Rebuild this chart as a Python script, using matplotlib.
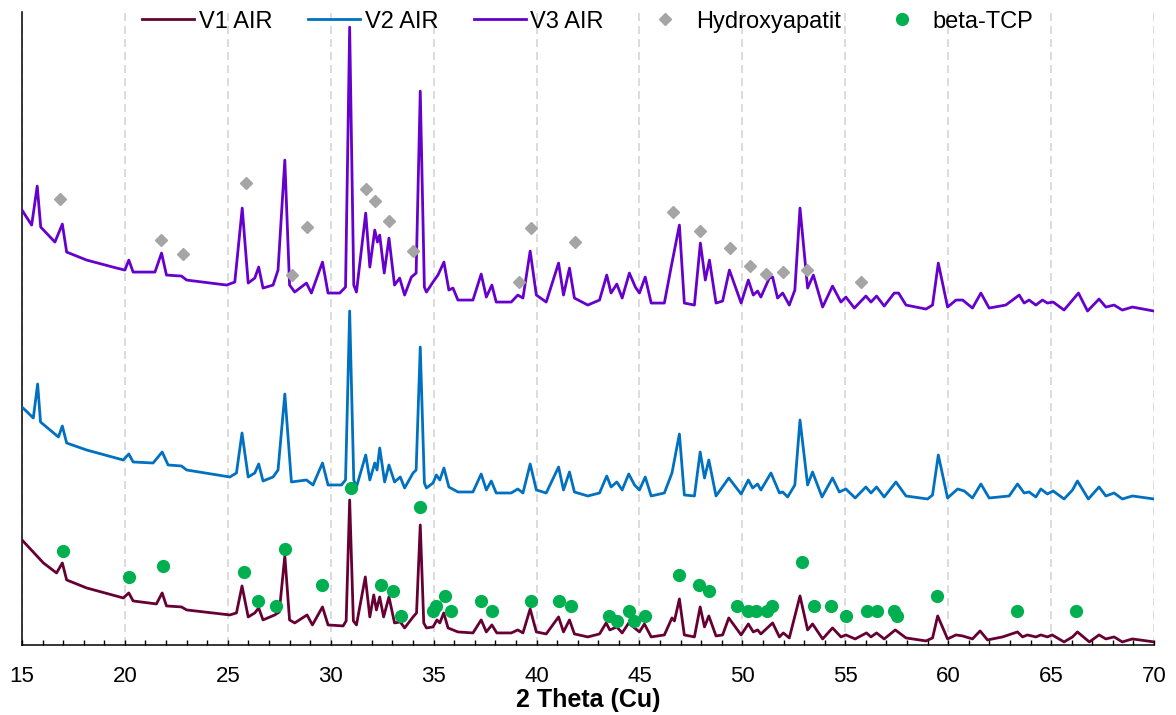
# XRD patterns V1-V3 (air), with phase markers
import numpy as np
import matplotlib.pyplot as plt
from matplotlib.ticker import MultipleLocator

plt.rcParams['font.family'] = ['Liberation Sans', 'DejaVu Sans']

# (2 theta, intensity a.u.) vertices
v3_air = [
    (15.0, 435), (15.47, 420), (15.74, 459), (15.91, 418), (16.6, 403), (16.96, 421),
    (17.17, 393), (18.14, 385), (19.6, 377), (20.0, 375), (20.19, 385), (20.4, 373),
    (21.46, 373), (21.78, 392), (22.02, 370), (22.75, 369), (23.0, 365), (24.94, 360),
    (25.34, 363), (25.7, 437), (25.99, 362), (26.31, 367), (26.5, 378), (26.71, 357),
    (27.2, 360), (27.44, 375), (27.77, 485), (28.0, 360), (28.25, 353), (28.82, 362),
    (29.06, 352), (29.6, 383), (29.87, 352), (30.44, 352), (30.72, 358), (30.92, 618),
    (31.12, 360), (31.25, 353), (31.7, 432), (31.9, 378), (32.14, 415), (32.27, 403),
    (32.38, 410), (32.6, 372), (32.83, 407), (33.1, 360), (33.35, 367), (33.59, 350),
    (33.92, 368), (34.15, 372), (34.35, 554), (34.55, 358), (34.65, 353), (34.97, 363),
    (35.21, 370), (35.5, 383), (35.74, 355), (35.94, 357), (36.18, 345), (36.91, 345),
    (37.31, 371), (37.56, 348), (37.83, 360), (38.04, 343), (38.77, 343), (39.09, 350),
    (39.34, 347), (39.69, 394), (39.99, 350), (40.47, 343), (41.07, 382), (41.31, 350),
    (41.6, 377), (41.84, 347), (42.49, 340), (43.06, 345), (43.41, 370), (43.62, 352),
    (43.9, 361), (44.16, 347), (44.51, 372), (44.8, 358), (45.0, 352), (45.28, 368),
    (45.57, 342), (46.21, 342), (46.54, 378), (46.94, 420), (47.18, 342), (47.67, 340),
    (47.96, 402), (48.2, 365), (48.4, 385), (48.72, 342), (49.04, 344), (49.37, 375),
    (49.94, 342), (50.29, 365), (50.53, 350), (50.74, 354), (50.9, 348), (51.31, 367),
    (51.47, 368), (51.71, 347), (51.96, 352), (52.28, 340), (52.55, 355), (52.8, 437),
    (53.17, 357), (53.45, 370), (53.9, 338), (54.38, 359), (54.79, 343), (55.03, 348),
    (55.44, 337), (56.0, 349), (56.25, 343), (56.52, 349), (56.89, 339), (57.38, 352),
    (57.59, 352), (57.95, 340), (58.92, 336), (59.24, 340), (59.52, 382), (59.97, 338),
    (60.38, 345), (60.7, 345), (61.18, 337), (61.59, 352), (61.99, 337), (62.8, 340),
    (63.45, 350), (63.69, 342), (63.93, 345), (64.26, 340), (64.58, 345), (64.82, 342),
    (65.1, 343), (65.63, 335), (66.04, 345), (66.33, 352), (66.77, 334), (67.33, 346),
    (67.66, 338), (68.06, 340), (68.46, 335), (68.95, 338), (70.0, 334),
]

v2_air = [
    (15.0, 238), (15.55, 227), (15.76, 261), (15.9, 223), (16.77, 208), (16.96, 219),
    (17.17, 202), (18.14, 195), (19.92, 185), (20.19, 191), (20.4, 183), (21.37, 182),
    (21.81, 193), (22.1, 180), (22.75, 179), (23.0, 175), (25.1, 168), (25.42, 172),
    (25.69, 212), (25.99, 168), (26.31, 172), (26.5, 181), (26.71, 164), (27.2, 168),
    (27.44, 175), (27.77, 251), (28.09, 163), (28.82, 165), (29.14, 160), (29.6, 182),
    (29.87, 160), (30.52, 160), (30.72, 165), (30.92, 334), (31.12, 165), (31.25, 158),
    (31.7, 190), (31.9, 165), (32.14, 182), (32.25, 175), (32.38, 197), (32.62, 163),
    (32.83, 180), (33.1, 163), (33.38, 168), (33.59, 157), (34.0, 172), (34.15, 175),
    (34.35, 298), (34.55, 162), (34.65, 157), (34.97, 162), (35.13, 170), (35.3, 165),
    (35.5, 177), (35.74, 158), (36.18, 153), (36.91, 153), (37.31, 171), (37.56, 155),
    (37.8, 164), (38.04, 152), (38.77, 152), (39.09, 156), (39.34, 152), (39.69, 181),
    (39.99, 155), (40.47, 152), (41.07, 178), (41.31, 155), (41.6, 173), (41.84, 153),
    (42.49, 149), (43.06, 152), (43.41, 169), (43.62, 158), (43.9, 163), (44.16, 155),
    (44.48, 171), (44.76, 160), (45.0, 155), (45.28, 168), (45.57, 149), (46.21, 152),
    (46.58, 172), (46.94, 211), (47.18, 150), (47.67, 149), (47.95, 193), (48.16, 167),
    (48.37, 185), (48.72, 149), (49.34, 167), (49.94, 151), (50.29, 165), (50.5, 157),
    (50.74, 161), (50.9, 155), (51.39, 172), (51.8, 152), (51.96, 153), (52.2, 148),
    (52.55, 160), (52.8, 225), (53.17, 160), (53.41, 173), (53.87, 148), (54.38, 167),
    (54.71, 153), (55.03, 156), (55.48, 147), (56.0, 158), (56.25, 152), (56.52, 158),
    (56.89, 148), (57.46, 163), (57.95, 149), (59.0, 146), (59.24, 150), (59.52, 190),
    (59.97, 147), (60.46, 156), (60.78, 154), (61.18, 147), (61.59, 161), (61.99, 147),
    (62.96, 149), (63.37, 161), (63.69, 152), (63.93, 153), (64.26, 148), (64.5, 156),
    (64.82, 151), (65.1, 154), (65.63, 146), (66.04, 155), (66.28, 164), (66.81, 146),
    (67.33, 158), (67.66, 149), (68.06, 152), (68.46, 146), (68.95, 149), (70.0, 146),
]

v1_air = [
    (15.0, 105), (16.04, 82), (16.68, 72), (16.96, 82), (17.17, 65), (18.14, 57),
    (19.92, 47), (20.19, 52), (20.4, 44), (21.53, 41), (21.81, 52), (22.02, 39),
    (22.75, 38), (23.0, 35), (25.1, 30), (25.42, 32), (25.69, 59), (25.99, 28),
    (26.31, 32), (26.5, 37), (26.71, 25), (27.28, 30), (27.5, 33), (27.77, 89),
    (28.0, 25), (28.25, 22), (28.85, 30), (29.11, 20), (29.6, 38), (29.87, 20),
    (30.6, 19), (30.75, 24), (30.92, 145), (31.1, 24), (31.25, 20), (31.68, 68),
    (31.9, 28), (32.09, 50), (32.22, 35), (32.38, 48), (32.57, 28), (32.83, 48),
    (33.1, 22), (33.38, 23), (33.59, 17), (34.0, 28), (34.17, 32), (34.35, 120),
    (34.52, 22), (34.65, 17), (34.97, 18), (35.16, 25), (35.3, 22), (35.49, 32),
    (35.7, 17), (36.18, 13), (36.91, 12), (37.31, 25), (37.56, 13), (37.83, 20),
    (38.07, 12), (38.77, 12), (39.09, 15), (39.34, 12), (39.69, 36), (39.99, 13),
    (40.47, 11), (41.07, 28), (41.31, 13), (41.6, 25), (41.84, 11), (42.49, 8),
    (43.06, 11), (43.38, 22), (43.56, 15), (43.9, 18), (44.16, 12), (44.48, 22),
    (44.76, 17), (45.0, 13), (45.24, 21), (45.57, 8), (46.21, 10), (46.58, 27),
    (46.7, 24), (46.94, 46), (47.18, 10), (47.67, 8), (47.95, 38), (48.16, 18),
    (48.37, 29), (48.72, 9), (49.04, 10), (49.34, 27), (49.94, 10), (50.29, 21),
    (50.53, 13), (50.74, 15), (50.9, 11), (51.47, 22), (51.8, 8), (51.99, 12),
    (52.28, 7), (52.8, 49), (53.17, 15), (53.41, 21), (53.9, 6), (54.38, 17),
    (54.79, 8), (55.03, 10), (55.48, 6), (56.03, 12), (56.25, 8), (56.52, 12),
    (56.89, 6), (57.43, 15), (57.95, 7), (58.92, 4), (59.24, 7), (59.49, 29),
    (59.97, 6), (60.38, 10), (60.7, 9), (61.18, 6), (61.55, 14), (61.91, 5),
    (62.64, 8), (63.37, 13), (63.61, 8), (63.85, 10), (64.26, 8), (64.5, 10),
    (64.82, 8), (65.05, 10), (65.63, 3), (66.04, 8), (66.28, 13), (66.86, 3),
    (67.33, 10), (67.66, 6), (68.06, 8), (68.46, 3), (68.95, 6), (70.0, 3),
]

# phase markers
hap_theta = [16.84, 21.75, 22.8, 25.86, 28.12, 28.87, 31.7, 32.14, 32.83, 34.0, 39.13,
             39.74, 41.89, 46.62, 47.96, 49.4, 50.37, 51.15, 51.96, 53.14, 55.76]
hap_int = [446, 405, 391, 462, 370, 418, 456, 444, 424, 394, 363,
           417, 403, 433, 414, 397, 379, 371, 373, 375, 363]

tcp_theta = [16.98, 20.21, 21.86, 25.78, 26.47, 27.36, 27.77, 29.6, 30.97, 32.44, 33.01,
             33.4, 34.35, 34.97, 35.13, 35.57, 35.86, 37.32, 37.85, 39.74, 41.07, 41.65,
             43.51, 43.9, 44.48, 44.72, 45.28, 46.91, 47.91, 48.36, 49.72, 50.26, 50.67,
             51.18, 51.42, 52.9, 53.46, 54.33, 55.03, 56.05, 56.52, 57.38, 57.51, 59.48,
             63.36, 66.2]
tcp_int = [94, 68, 79, 73, 44, 39, 96, 60, 157, 60, 54,
           29, 138, 34, 39, 49, 34, 44, 34, 44, 44, 39,
           29, 24, 34, 24, 29, 70, 60, 54, 39, 34, 34,
           34, 39, 83, 39, 39, 29, 34, 34, 34, 29, 49,
           34, 34]

fig = plt.figure(figsize=(11.76, 7.15), dpi=100)
ax = fig.add_axes([0.0187, 0.098, 0.9626, 0.885])

for data, name, col in [(v1_air, "V1 AIR", "#660033"),
                        (v2_air, "V2 AIR", "#0070C0"),
                        (v3_air, "V3 AIR", "#6600CC")]:
    arr = np.array(data)
    ax.plot(arr[:, 0], arr[:, 1], color=col, lw=2, label=name, zorder=3)

ax.plot(hap_theta, hap_int, linestyle='none', marker='D', ms=6.5,
        color='#A5A5A5', label='Hydroxyapatit', zorder=4)
ax.plot(tcp_theta, tcp_int, linestyle='none', marker='o', ms=8.5,
        color='#00B050', label='beta-TCP', zorder=4)

ax.set_xlim(15, 70)
ax.set_ylim(0, 633)
ax.xaxis.set_major_locator(MultipleLocator(5))
ax.xaxis.set_minor_locator(MultipleLocator(1))
ax.set_yticks([])
ax.grid(axis='x', which='major', color='#D9D9D9', lw=1.3, ls=(0, (4.4, 2.8)), zorder=0)

ax.spines['top'].set_visible(False)
ax.spines['right'].set_visible(False)
ax.spines['left'].set_linewidth(1.1)
ax.spines['bottom'].set_linewidth(1.1)
ax.tick_params(axis='x', which='both', direction='in', length=3.5, width=1,
               labelsize=16, pad=15)

ax.set_xlabel('2 Theta (Cu)', fontsize=18, fontweight='bold', labelpad=1)

ax.legend(loc='center', bbox_to_anchor=(0.5, 0.985), ncol=5, frameon=False,
          fontsize=17, handlelength=2.2, handletextpad=0.2, columnspacing=1.5)

plt.savefig('out.png', dpi=100)
